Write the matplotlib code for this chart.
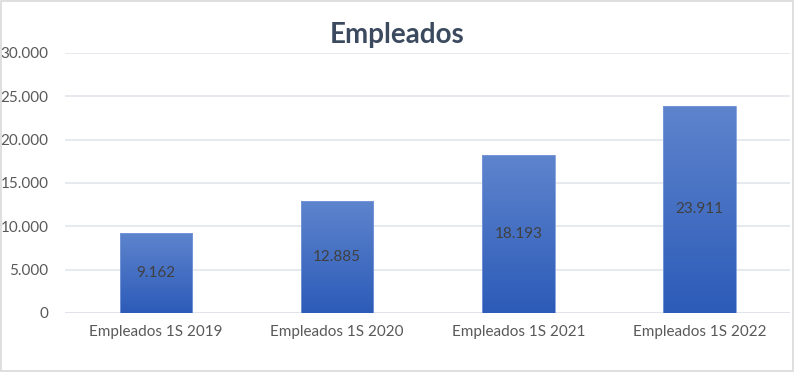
import matplotlib
matplotlib.use("Agg")
import matplotlib.pyplot as plt
import numpy as np
from matplotlib.colors import LinearSegmentedColormap
from matplotlib.patches import Rectangle

categories = ["Empleados 1S 2019", "Empleados 1S 2020", "Empleados 1S 2021", "Empleados 1S 2022"]
values = [9162, 12885, 18193, 23911]
labels = ["9.162", "12.885", "18.193", "23.911"]
yticks = [0, 5000, 10000, 15000, 20000, 25000, 30000]
ytick_labels = ["0", "5.000", "10.000", "15.000", "20.000", "25.000", "30.000"]

plt.rcParams['font.family'] = ['Lato', 'DejaVu Sans']

fig = plt.figure(figsize=(7.95, 3.72), dpi=100)
fig.patch.set_facecolor("white")
fig.add_artist(Rectangle((0.001, 0.002), 0.997, 0.995, transform=fig.transFigure,
                         fill=False, edgecolor="#D9D9D9", linewidth=1.2))
ax = fig.add_axes([0.082, 0.159, 0.912, 0.699])

x = np.arange(len(categories))
cmap = LinearSegmentedColormap.from_list("g", ["#2C5BB8", "#5E84CD"])
grad = np.linspace(0, 1, 256).reshape(-1, 1)
bars = ax.bar(x, values, width=0.40, color="none", edgecolor="#7A9AD8", linewidth=0.6, zorder=3)
for b in bars:
    bx, by = b.get_x(), b.get_y()
    w, h = b.get_width(), b.get_height()
    im = ax.imshow(grad, extent=[bx, bx + w, by, by + h], origin="lower", cmap=cmap,
                   aspect="auto", zorder=2.5)
    im.set_clip_path(b)

for xi, v, lab in zip(x, values, labels):
    ax.text(xi, v / 2, lab, ha="center", va="center", fontsize=11, color="#404040", zorder=4)

ax.set_xlim(-0.5, len(categories) - 0.5)
ax.set_ylim(0, 30000)
ax.set_yticks(yticks)
ax.set_yticklabels(ytick_labels)
ax.set_xticks(x)
ax.set_xticklabels(categories)
ax.tick_params(axis="both", length=0, labelsize=11, labelcolor="#595959")
ax.tick_params(axis="x", pad=9)
ax.tick_params(axis="y", pad=12)
ax.grid(axis="y", color="#E1E5EB", linewidth=1.2, zorder=0)
for s in ax.spines.values():
    s.set_visible(False)
ax.axhline(0, color="#D9DDE3", linewidth=1.2, zorder=1)

fig.text(0.5, 0.905, "Empleados", ha="center", va="center", fontsize=20, fontweight="bold", color="#3B4A5E")

fig.savefig("out.png", dpi=100)
